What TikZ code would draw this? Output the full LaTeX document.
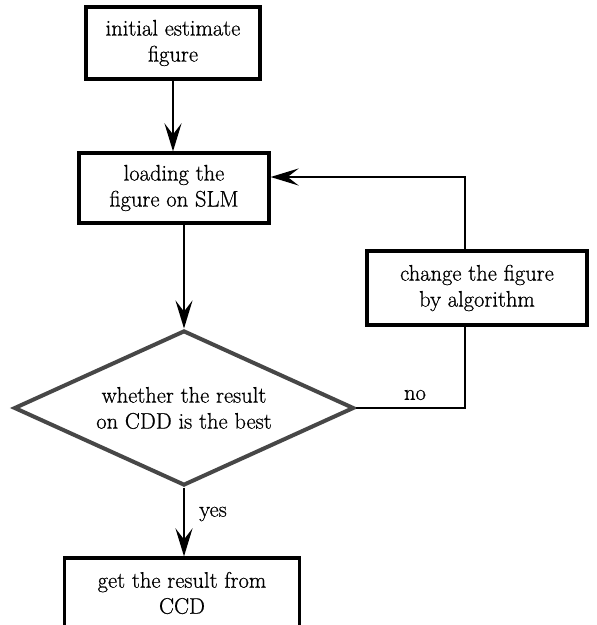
\documentclass[tikz,border=0pt]{standalone}
\usepackage{fontspec}
\setmainfont{Latin Modern Roman}[FakeBold=0.7]
\usetikzlibrary{shapes.geometric,arrows.meta,calc}
\begin{document}
\begin{tikzpicture}[x=1pt,y=-1pt,
  every node/.style={font=\fontsize{22.5}{26}\selectfont},
  box/.style={draw=black,line width=3.2pt,rectangle,inner sep=0pt,align=center},
  dec/.style={draw=black!72,line width=4pt,diamond,aspect=2.2,inner sep=0pt,align=center,
    minimum width=340pt,minimum height=155pt},
  conn/.style={line width=2.8pt,line join=miter},
  arr/.style={conn,-{Stealth[length=28pt,width=17pt,inset=11pt]}},
  lbl/.style={inner sep=0pt}]
\clip (0,0) rectangle (597,625);
\fill[white] (0,0) rectangle (597,625);
\node[box,minimum width=174pt,minimum height=72pt] (b1) at (173,43) {initial estimate\\figure};
\node[box,minimum width=190pt,minimum height=70pt] (b2) at (174,188) {loading the\\figure on SLM};
\node[box,minimum width=220pt,minimum height=74pt] (b3) at (477,288) {change the figure\\by algorithm};
\node[dec] (d) at (184,408) {whether the result\\on CDD is the best};
\node[box,minimum width=235pt,minimum height=70pt] (b4) at (182,593) {get the result from\\CCD};
\coordinate (b3top) at ([xshift=-12pt]b3.north);
\coordinate (b3bot) at ([xshift=-12pt]b3.south);
\coordinate (b2in) at ([yshift=11pt]b2.east);
\draw[arr] (b1.south) -- (b1.south |- b2.north);
\draw[arr] (d.north |- b2.south) -- (d.north);
\draw[arr] (d.south) -- (d.south |- b4.north);
\draw[arr] (b3top) -- (b3top |- b2in) -- (b2in);
\draw[conn] (b3bot) -- (b3bot |- d.east) -- (d.east);
\node[lbl] (no) at (415,395) {no};
\node[lbl] (yes) at (213,514) {yes};
\end{tikzpicture}
\end{document}
